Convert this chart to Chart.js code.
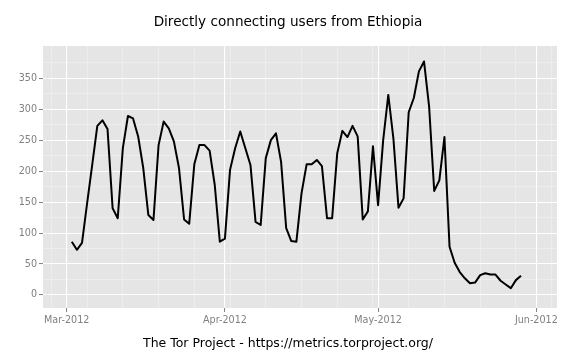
<!DOCTYPE html>
<html>
<head>
<meta charset="utf-8">
<script src="https://cdn.jsdelivr.net/npm/chart.js@4.4.1/dist/chart.umd.min.js"></script>
<style>
  html, body { margin: 0; padding: 0; background: #ffffff; }
  #wrap { width: 576px; height: 360px; }
</style>
</head>
<body>
<div id="wrap"><canvas id="c" width="576" height="360"></canvas></div>
<script>
// ---- data ----
const chartTitle = "Directly connecting users from Ethiopia";
const axisCaption = "The Tor Project - https://metrics.torproject.org/";

const dates = [
  "2012-03-02","2012-03-03","2012-03-04","2012-03-05","2012-03-06","2012-03-07","2012-03-08","2012-03-09","2012-03-10","2012-03-11",
  "2012-03-12","2012-03-13","2012-03-14","2012-03-15","2012-03-16","2012-03-17","2012-03-18","2012-03-19","2012-03-20","2012-03-21",
  "2012-03-22","2012-03-23","2012-03-24","2012-03-25","2012-03-26","2012-03-27","2012-03-28","2012-03-29","2012-03-30","2012-03-31",
  "2012-04-01","2012-04-02","2012-04-03","2012-04-04","2012-04-05","2012-04-06","2012-04-07","2012-04-08","2012-04-09","2012-04-10",
  "2012-04-11","2012-04-12","2012-04-13","2012-04-14","2012-04-15","2012-04-16","2012-04-17","2012-04-18","2012-04-19","2012-04-20",
  "2012-04-21","2012-04-22","2012-04-23","2012-04-24","2012-04-25","2012-04-26","2012-04-27","2012-04-28","2012-04-29","2012-04-30",
  "2012-05-01","2012-05-02","2012-05-03","2012-05-04","2012-05-05","2012-05-06","2012-05-07","2012-05-08","2012-05-09","2012-05-10",
  "2012-05-11","2012-05-12","2012-05-13","2012-05-14","2012-05-15","2012-05-16","2012-05-17","2012-05-18","2012-05-19","2012-05-20",
  "2012-05-21","2012-05-22","2012-05-23","2012-05-24","2012-05-25","2012-05-26","2012-05-27","2012-05-28","2012-05-29"
];

const users = [
   86,  73,  84, 148, 210, 273, 282, 268, 140, 124,
  237, 289, 285, 256, 205, 129, 121, 242, 280, 269,
  248, 205, 122, 115, 211, 242, 242, 233, 178,  86,
   91, 202, 237, 264, 237, 210, 118, 113, 221, 250,
  261, 215, 108,  87,  86, 164, 211, 211, 218, 208,
  124, 124, 229, 265, 255, 273, 256, 122, 135, 240,
  145, 250, 323, 253, 141, 156, 295, 318, 361, 377,
  304, 168, 185, 255,  78,  52,  37,  27,  19,  20,
   32,  35,  33,  33,  23,  17,  11,  24,  31
];

const xTickDates  = ["2012-03-01","2012-04-01","2012-05-01","2012-06-01"];
const xTickLabels = ["Mar-2012","Apr-2012","May-2012","Jun-2012"];
const xMinorDates = ["2012-02-27","2012-03-05","2012-03-12","2012-03-19","2012-03-26","2012-04-02","2012-04-09",
                     "2012-04-16","2012-04-23","2012-04-30","2012-05-07","2012-05-14","2012-05-21","2012-05-28","2012-06-04"];
const yTicks      = [0, 50, 100, 150, 200, 250, 300, 350];
const yMinorTicks = [25, 75, 125, 175, 225, 275, 325, 375];

// ---- helpers ----
const DAY = 86400000;
const origin = Date.UTC(2012, 2, 1);
function dayIndex(s) {
  const p = s.split("-").map(Number);
  return (Date.UTC(p[0], p[1] - 1, p[2]) - origin) / DAY;
}
const points = dates.map((d, i) => ({ x: dayIndex(d), y: users[i] }));
const xTickIdx = xTickDates.map(dayIndex);
const xMinorIdx = xMinorDates.map(dayIndex);

const FONT = "'DejaVu Sans', 'Liberation Sans', sans-serif";
const TICK_GREY = "#7f7f7f";
const X_MIN = -4.64, X_MAX = 96.05;
const Y_MIN = -21, Y_MAX = 402;

const panelBg = {
  id: "panelBg",
  beforeDraw(chart) {
    const { ctx, chartArea: a } = chart;
    ctx.save();
    ctx.fillStyle = "#e5e5e5";
    ctx.fillRect(a.left, a.top, a.right - a.left, a.bottom - a.top);
    ctx.restore();
  }
};

const texts = {
  id: "texts",
  afterDraw(chart) {
    const { ctx } = chart;
    ctx.save();
    ctx.fillStyle = "#000000";
    ctx.textAlign = "center";
    ctx.textBaseline = "middle";
    ctx.font = "13.6px " + FONT;
    ctx.fillText(chartTitle, 288, 22);
    ctx.font = "12.5px " + FONT;
    ctx.fillText(axisCaption, 288, 344);
    ctx.restore();
  }
};

new Chart(document.getElementById("c"), {
  type: "line",
  data: {
    datasets: [{
      data: points,
      borderColor: "#000000",
      borderWidth: 2,
      pointRadius: 0,
      tension: 0,
      fill: false,
      borderJoinStyle: "round",
      borderCapStyle: "butt"
    }]
  },
  options: {
    responsive: false,
    devicePixelRatio: 1,
    animation: false,
    events: [],
    layout: { padding: { left: 0, right: 19, top: 46, bottom: 0 } },
    plugins: { legend: { display: false }, tooltip: { enabled: false }, title: { display: false } },
    scales: {
      xMinor: {
        type: "linear", position: "bottom", axis: "x",
        min: X_MIN, max: X_MAX,
        afterBuildTicks: s => { s.ticks = xMinorIdx.map(v => ({ value: v })); },
        afterFit: s => { s.height = 0; },
        grid: { color: "#f2f2f2", lineWidth: 0.6, drawTicks: false, z: -2 },
        border: { display: false },
        ticks: { display: false, z: -2 }
      },
      yMinor: {
        type: "linear", position: "left", axis: "y",
        min: Y_MIN, max: Y_MAX,
        afterBuildTicks: s => { s.ticks = yMinorTicks.map(v => ({ value: v })); },
        afterFit: s => { s.width = 0; },
        grid: { color: "#f2f2f2", lineWidth: 0.6, drawTicks: false, z: -2 },
        border: { display: false },
        ticks: { display: false, z: -2 }
      },
      x: {
        type: "linear", position: "bottom",
        min: X_MIN, max: X_MAX,
        afterBuildTicks: s => { s.ticks = xTickIdx.map(v => ({ value: v })); },
        afterFit: s => { s.height = 52; },
        grid: { color: "#ffffff", lineWidth: 1.1, drawTicks: true, tickLength: 4, tickColor: TICK_GREY, tickWidth: 1, z: -1 },
        border: { display: false },
        ticks: {
          color: TICK_GREY, padding: 3, maxRotation: 0, autoSkip: false,
          font: { family: FONT, size: 9.6 },
          callback: v => xTickLabels[xTickIdx.indexOf(v)]
        }
      },
      y: {
        type: "linear", position: "left",
        min: Y_MIN, max: Y_MAX,
        afterBuildTicks: s => { s.ticks = yTicks.map(v => ({ value: v })); },
        afterFit: s => { s.width = 43; },
        grid: { color: "#ffffff", lineWidth: 1.1, drawTicks: true, tickLength: 4, tickColor: TICK_GREY, tickWidth: 1, z: -1 },
        border: { display: false },
        ticks: {
          color: TICK_GREY, padding: 2,
          font: { family: FONT, size: 9.6 },
          callback: v => String(v)
        }
      }
    }
  },
  plugins: [panelBg, texts]
});
</script>
</body>
</html>
